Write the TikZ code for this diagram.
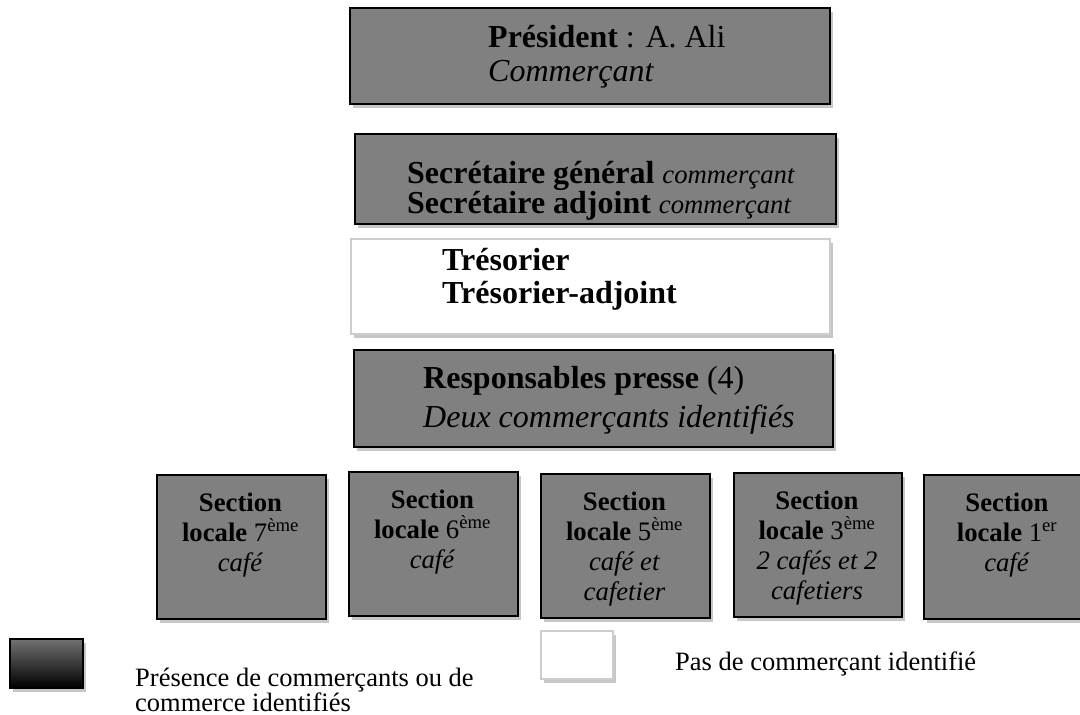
\documentclass[tikz,border=0pt]{standalone}
\usepackage{fontspec}
\setmainfont{Liberation Serif}
\usetikzlibrary{shadows}
\definecolor{boxgray}{RGB}{128,128,128}
\definecolor{lightedge}{RGB}{205,205,205}
\begin{document}
\begin{tikzpicture}[x=1pt,y=-1pt,
  shd/.style={drop shadow={shadow xshift=3pt,shadow yshift=-4pt,fill=black,opacity=0.22}},
  darkbox/.style={shd,draw=black,line width=1.5pt,fill=boxgray,inner sep=0pt,anchor=north west},
  whitebox/.style={shd,draw=lightedge,line width=1.5pt,fill=white,inner sep=0pt,anchor=north west},
  big/.style={inner sep=0pt,anchor=base west,font=\fontsize{32}{34}\selectfont},
  sec/.style={inner sep=0pt,anchor=base,font=\fontsize{26.7}{30}\selectfont},
  leg/.style={inner sep=0pt,anchor=base west,font=\fontsize{26.5}{30}\selectfont}]
\useasboundingbox (0,0) rectangle (1080,715);
\clip (0,0) rectangle (1080,715);

% top boxes
\node[darkbox,minimum width=480pt,minimum height=96pt] (pres) at (349,7) {};
\node[big] (pres1) at (488,47) {\textbf{Président} : A. Ali};
\node[big] (pres2) at (488,81) {\textit{Commerçant}};

\node[darkbox,minimum width=481pt,minimum height=90pt] (secr) at (354,133) {};
\node[big] (secr1) at (407,183) {\textbf{Secrétaire général} {\fontsize{26.7}{30}\selectfont\textit{commerçant}}};
\node[big] (secr2) at (407,213) {\textbf{Secrétaire adjoint} {\fontsize{26.7}{30}\selectfont\textit{commerçant}}};

\node[whitebox,minimum width=479pt,minimum height=95pt] (treso) at (350,238) {};
\node[big] (treso1) at (442,270) {\textbf{Trésorier}};
\node[big] (treso2) at (442,303) {\textbf{Trésorier-adjoint}};

\node[darkbox,minimum width=479pt,minimum height=97pt] (resp) at (353,349) {};
\node[big] (resp1) at (423,388) {\textbf{Responsables presse} (4)};
\node[big] (resp2) at (423,427) {\textit{Deux commerçants identifiés}};

% sections
\node[darkbox,minimum width=169pt,minimum height=144pt] (s7) at (156,474) {};
\node[sec] (s7a) at (240.5,511) {\textbf{Section}};
\node[sec] (s7b) at (240.5,541) {\textbf{locale} 7\textsuperscript{ème}};
\node[sec] (s7c) at (240.5,571) {\textit{café}};

\node[darkbox,minimum width=169pt,minimum height=144pt] (s6) at (348,471) {};
\node[sec] (s6a) at (432.5,508) {\textbf{Section}};
\node[sec] (s6b) at (432.5,538) {\textbf{locale} 6\textsuperscript{ème}};
\node[sec] (s6c) at (432.5,568) {\textit{café}};

\node[darkbox,minimum width=169pt,minimum height=144pt] (s5) at (540,473) {};
\node[sec] (s5a) at (624.5,510) {\textbf{Section}};
\node[sec] (s5b) at (624.5,540) {\textbf{locale} 5\textsuperscript{ème}};
\node[sec] (s5c) at (624.5,570) {\textit{café et}};
\node[sec] (s5d) at (624.5,600) {\textit{cafetier}};

\node[darkbox,minimum width=168pt,minimum height=144pt] (s3) at (733,472) {};
\node[sec] (s3a) at (817,509) {\textbf{Section}};
\node[sec] (s3b) at (817,539) {\textbf{locale} 3\textsuperscript{ème}};
\node[sec] (s3c) at (817,569) {\textit{2 cafés et 2}};
\node[sec] (s3d) at (817,599) {\textit{cafetiers}};

\node[darkbox,minimum width=168pt,minimum height=144pt] (s1) at (923,474) {};
\node[sec] (s1a) at (1007,511) {\textbf{Section}};
\node[sec] (s1b) at (1007,541) {\textbf{locale} 1\textsuperscript{er}};
\node[sec] (s1c) at (1007,571) {\textit{café}};

% legend
\node[shd,draw=black,line width=1.5pt,top color=black!55,bottom color=black,inner sep=0pt,anchor=north west,minimum width=73pt,minimum height=49pt] (legdark) at (9,638) {};
\node[leg] (legdark1) at (135,686) {Présence de commerçants ou de};
\node[leg] (legdark2) at (135,711) {commerce identifiés};

\node[whitebox,minimum width=72pt,minimum height=48pt] (legwhite) at (540,630) {};
\node[leg] (legwhite1) at (675,670) {Pas de commerçant identifié};
\end{tikzpicture}
\end{document}
